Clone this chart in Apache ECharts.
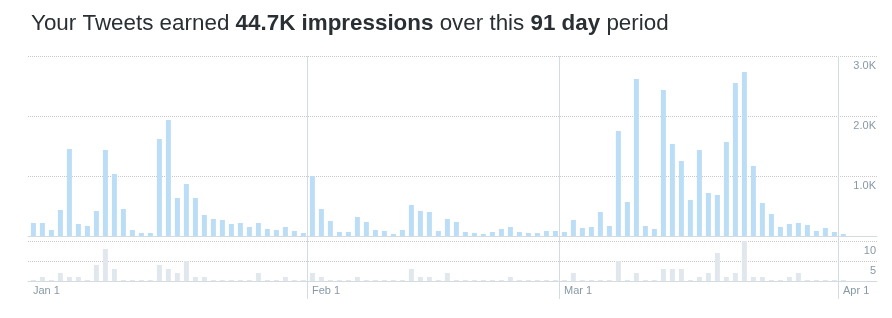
<!DOCTYPE html>
<html><head><meta charset="utf-8">
<script src="https://cdn.jsdelivr.net/npm/echarts@6/dist/echarts.min.js"></script>
<style>html,body{margin:0;padding:0;background:#fff}#c{width:892px;height:318px}</style>
</head><body><div id="c"></div>
<script>
// Daily values, Jan 1 .. Apr 1 (91 days)
const impressions = [
  217,217,100,433,1450,200,167,417,1433,1033,450,100,50,50,1617,1933,633,867,633,350,283,267,200,217,150,217,117,100,150,83,50,
  1000,450,250,67,67,317,233,100,83,33,100,517,417,400,83,283,233,67,50,33,67,117,150,67,50,50,83,83,
  67,267,133,150,400,167,1750,567,2617,167,117,2433,1533,1250,600,1433,717,683,1567,2550,2733,1167,550,367,150,200,217,183,83,133,67,
  33
];
const engagements = [
  0,1,0,2,1,1,0,4,8,3,0,0,0,0,4,3,2,5,1,1,0,0,0,0,0,2,0,0,1,0,0,
  2,1,0,0,0,1,0,0,0,0,0,3,1,1,0,2,0,0,0,0,0,0,1,0,0,0,0,0,
  0,2,0,0,0,0,5,0,2,0,0,3,3,3,0,1,2,7,1,2,10,1,1,0,0,1,2,0,0,0,0,
  0
];
const monthLabels = ['Jan 1', 'Feb 1', 'Mar 1', 'Apr 1'];
const monthStartIdx = [0, 31, 59, 90];
const impressionTicks = [0, 1000, 2000, 3000];
const engagementTicks = [0, 5, 10];

const chart = echarts.init(document.getElementById('c'), null, {renderer: 'canvas'});
const FONT = '"Liberation Sans", Arial, Helvetica, sans-serif';
const XMAX = (877 - 28) / 9;
const lineCol = '#d3dce2';
const labCol = '#8899a6';

chart.setOption({
  animation: false,
  textStyle: {fontFamily: FONT},
  title: {
    left: 26, top: 8,
    text: '{n|Your Tweets earned }{b|44.7K impressions}{n| over this }{b|91 day}{n| period}',
    textStyle: {
      rich: {
        n: {fontFamily: FONT, fontSize: 22.4, color: '#292f33', fontWeight: 'normal'},
        b: {fontFamily: FONT, fontSize: 22.4, color: '#292f33', fontWeight: 'bold'}
      }
    }
  },
  grid: [
    {left: 28, right: 15, top: 56, height: 180},
    {left: 28, right: 15, top: 241, height: 40},
    {left: 28, right: 15, top: 56, bottom: 19}
  ],
  xAxis: [
    {gridIndex: 0, type: 'value', min: 0, max: XMAX, axisLine: {show: true, lineStyle: {color: lineCol}},
     axisTick: {show: false}, axisLabel: {show: false}, splitLine: {show: false}},
    {gridIndex: 1, type: 'value', min: 0, max: XMAX, axisLine: {show: true, lineStyle: {color: lineCol}},
     axisTick: {show: false}, splitLine: {show: false},
     axisLabel: {show: true, customValues: monthStartIdx, align: 'left', padding: [0, 0, 0, 5], margin: 4,
       color: labCol, fontSize: 11, fontFamily: FONT,
       formatter: v => monthLabels[monthStartIdx.indexOf(v)] || ''}},
    {gridIndex: 2, type: 'value', min: 0, max: XMAX, axisLine: {show: false}, axisLabel: {show: false},
     splitLine: {show: false},
     axisTick: {show: true, inside: true, length: 243, customValues: monthStartIdx.slice(1), lineStyle: {color: lineCol, width: 1}}}
  ],
  yAxis: [
    {gridIndex: 0, type: 'value', position: 'right', min: impressionTicks[0], max: impressionTicks[3], interval: 1000,
     axisLine: {show: false}, axisTick: {show: false},
     axisLabel: {inside: true, margin: 1, verticalAlign: 'top', padding: [4, 0, 0, 0], color: labCol, fontSize: 11,
       formatter: v => v === 0 ? '' : (v / 1000).toFixed(1) + 'K'},
     splitLine: {show: true, lineStyle: {type: 'dotted', color: '#c8c8c8'}}},
    {gridIndex: 1, type: 'value', position: 'right', min: engagementTicks[0], max: engagementTicks[2], interval: 5,
     axisLine: {show: false}, axisTick: {show: false},
     axisLabel: {inside: true, margin: 1, verticalAlign: 'top', padding: [4, 0, 0, 0], color: labCol, fontSize: 11,
       formatter: v => v === 0 ? '' : String(v)},
     splitLine: {show: true, lineStyle: {type: 'dotted', color: '#c8c8c8'}}},
    {gridIndex: 2, type: 'value', min: 0, max: 1, show: false}
  ],
  series: [
    {type: 'bar', xAxisIndex: 0, yAxisIndex: 0, barWidth: 5, itemStyle: {color: '#bbddf5'},
     data: impressions.map((v, i) => [i + 0.6, v])},
    {type: 'bar', xAxisIndex: 1, yAxisIndex: 1, barWidth: 5, barMinHeight: 1, itemStyle: {color: '#e1e8ed'},
     data: engagements.map((v, i) => [i + 0.6, v])}
  ]
});
</script>
</body></html>
